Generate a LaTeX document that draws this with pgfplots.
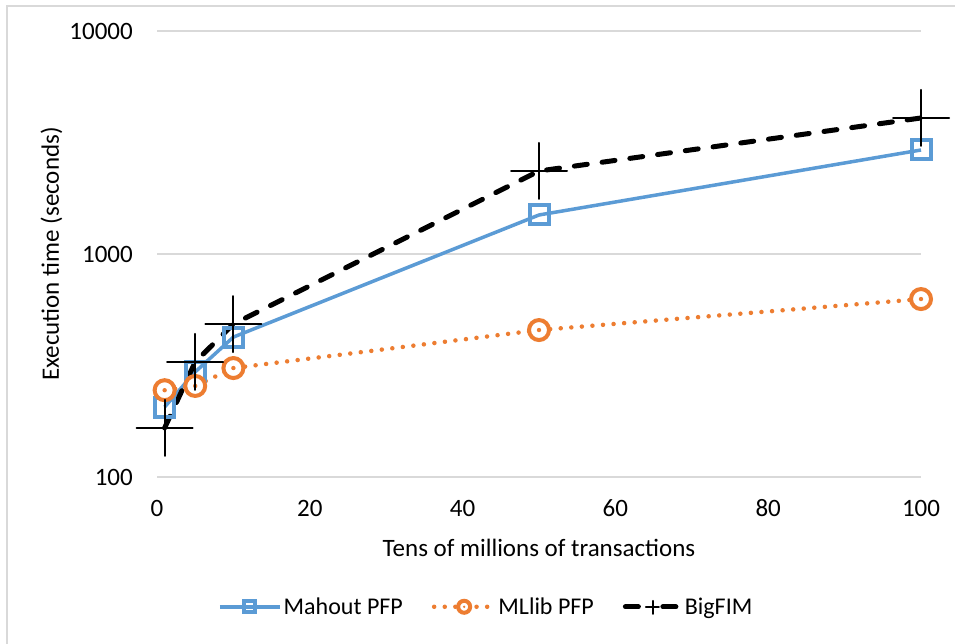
\documentclass[border=0pt]{standalone}
\usepackage{fontspec}
\setmainfont{Carlito}
\usepackage{pgfplots}
\pgfplotsset{compat=1.18}
\definecolor{bluec}{HTML}{5B9BD5}
\definecolor{orangec}{HTML}{ED7D31}
\definecolor{gridc}{HTML}{D9D9D9}
\pgfdeclareplotmark{ocircdot}{%
  \pgfpathcircle{\pgfpoint{0pt}{0pt}}{\pgfplotmarksize}%
  \pgfusepathqfillstroke
  \begin{pgfscope}%
  \pgfsetfillcolor{orangec}%
  \pgfpathcircle{\pgfpoint{0pt}{0pt}}{0.22\pgfplotmarksize}%
  \pgfusepathqfill
  \end{pgfscope}}
\begin{document}
\begin{tikzpicture}
\useasboundingbox (0,0) rectangle (955pt,644pt);
\fill[white] (0,0) rectangle (955pt,644pt);
\draw[gridc, line width=2pt] (6.5pt,0) -- (6.5pt,637.5pt) -- (955pt,637.5pt);
\begin{axis}[
  at={(157pt,167pt)}, anchor=south west,
  scale only axis, width=764pt, height=446pt,
  xmin=0, xmax=100, ymode=log, ymin=100, ymax=10000,
  xtick={0,20,40,60,80,100}, xticklabels={0,20,40,60,80,100},
  ytick={100,1000,10000}, yticklabels={100,1000,10000},
  ymajorgrids, grid style={gridc, line width=1.2pt},
  axis line style={draw=none}, tick style={draw=none},
  minor tick num=0,
  font=\fontsize{25}{29}\selectfont,
  xticklabel style={anchor=center, yshift=-31.5pt, inner sep=0pt},
  yticklabel style={anchor=east, xshift=-24pt, inner sep=0pt},
  xlabel={Tens of millions of transactions},
  ylabel={Execution time (seconds)},
  xlabel style={at={(axis description cs:0.5,-0.159)}, anchor=center, inner sep=0pt},
  ylabel style={at={(axis description cs:-0.138,0.5)}, anchor=center, rotate=0, inner sep=0pt},
  clip=false,
  legend columns=3,
  legend style={at={(axis description cs:0.431,-0.291)}, anchor=center, draw=none, fill=none,
    font=\fontsize{24}{28}\selectfont,
    /tikz/every even column/.append style={column sep=27pt},
    nodes={inner xsep=2pt}},
  legend image code/.code={\draw[mark repeat=2,mark phase=2,#1] plot coordinates {(0pt,0pt) (30pt,0pt) (60pt,0pt)};},
]
\addplot[bluec, line width=3.5pt, mark=square, mark size=9.5pt, mark options={solid, line width=4pt},
  legend image post style={mark size=5.5pt, mark options={solid, line width=4pt, fill=white}}]
  coordinates {(1,206) (5,296) (10,424) (50,1496) (100,2927)};
\addlegendentry{Mahout PFP}
\addplot[orangec, line width=4.5pt, line cap=round, dash pattern=on 0pt off 10.6pt, mark=ocircdot, mark size=10pt, mark options={solid, line width=4pt, fill=white},
  legend image post style={mark size=6pt}]
  coordinates {(1,245) (5,256) (10,308) (50,456) (100,628)};
\addlegendentry{MLlib PFP}
\addplot[black, line width=5pt, line cap=round, dash pattern=on 13pt off 15pt, mark=+, mark size=28pt, mark options={solid, line width=2pt},
  legend image code/.code={%
    \draw[black, line width=5pt, line cap=round] (2.5pt,0pt) -- (20pt,0pt);
    \draw[black, line width=5pt, line cap=round] (40pt,0pt) -- (57.5pt,0pt);
    \draw[black, line width=2pt] (23pt,0pt) -- (37pt,0pt) (30pt,-7pt) -- (30pt,7pt);}]
  coordinates {(1,166) (5,328) (10,485) (50,2356) (100,4073)};
\addlegendentry{BigFIM}
\end{axis}
\end{tikzpicture}
\end{document}
